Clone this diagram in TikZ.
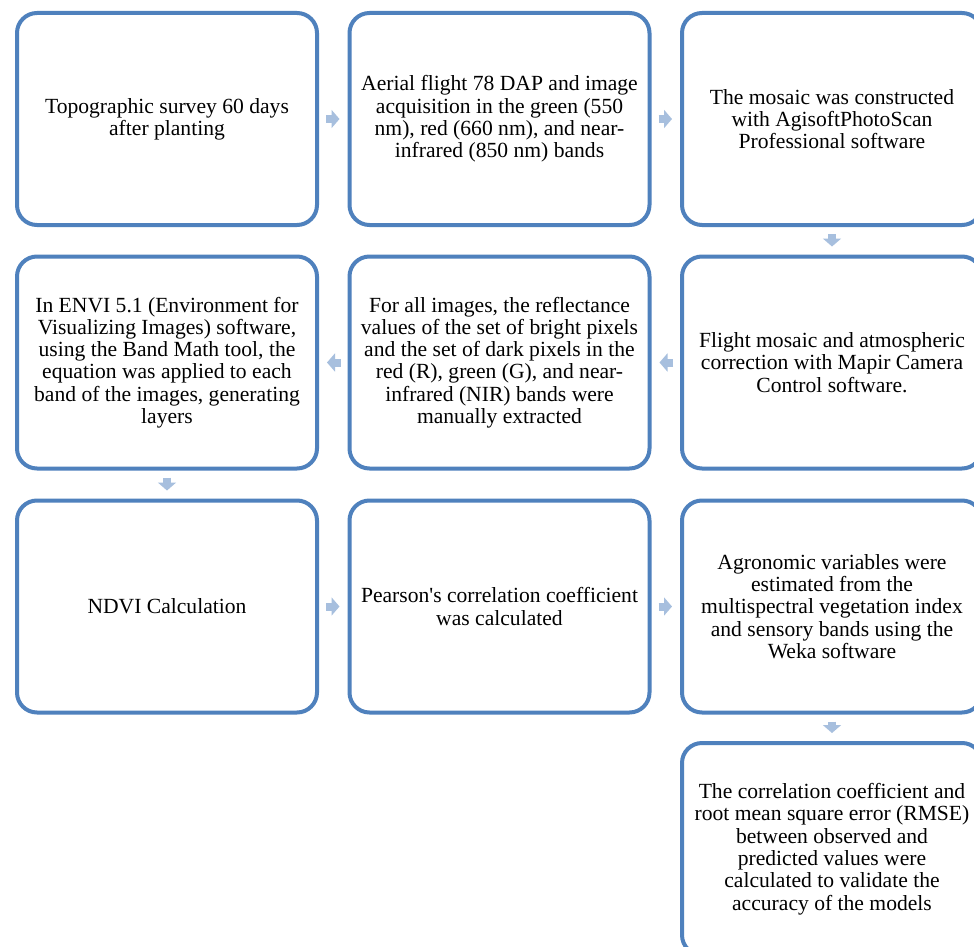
\documentclass[tikz,border=0pt]{standalone}
\usepackage{fontspec}
\setmainfont{Liberation Serif}
\usetikzlibrary{arrows.meta}
\definecolor{boxblue}{RGB}{79,129,189}
\definecolor{arrblue}{RGB}{167,191,222}
\begin{document}
\begin{tikzpicture}[x=1pt,y=-1pt,
  stepbox/.style={draw=boxblue, line width=4pt, rounded corners=20pt, fill=white,
    minimum width=300pt, minimum height=212pt, inner sep=0pt, align=center,
    font=\fontsize{21.6}{22.3}\selectfont},
  blockarr/.style={draw=arrblue, line width=8pt,
    -{Triangle[width=18pt,length=8pt]}, shorten <=7pt, shorten >=8pt}]
\clip (0,0) rectangle (974,947);
\fill[white] (0,0) rectangle (974,947);
% row 1
\node[stepbox] (a) at (167,119) {Topographic survey 60 days\\after planting};
\node[stepbox] (b) at (499.5,119) {Aerial flight 78 DAP and image\\acquisition in the green (550\\nm), red (660 nm), and near-\\infrared (850 nm) bands};
\node[stepbox] (c) at (832,119) {The mosaic was constructed\\with AgisoftPhotoScan\\Professional software};
% row 2
\node[stepbox] (d) at (832,362.5) {Flight mosaic and atmospheric\\correction with Mapir Camera\\Control software.};
\node[stepbox] (e) at (499.5,362.5) {For all images, the reflectance\\values of the set of bright pixels\\and the set of dark pixels in the\\red (R), green (G), and near-\\infrared (NIR) bands were\\manually extracted};
\node[stepbox] (f) at (167,362.5) {In ENVI 5.1 (Environment for\\Visualizing Images) software,\\using the Band Math tool, the\\equation was applied to each\\band of the images, generating\\layers};
% row 3
\node[stepbox] (g) at (167,606.5) {NDVI Calculation};
\node[stepbox] (h) at (499.5,606.5) {Pearson\textquotesingle s correlation coefficient\\was calculated};
\node[stepbox] (i) at (832,606.5) {Agronomic variables were\\estimated from the\\multispectral vegetation index\\and sensory bands using the\\Weka software};
% row 4
\node[stepbox] (j) at (832,849) {The correlation coefficient and\\root mean square error (RMSE)\\between observed and\\predicted values were\\calculated to validate the\\accuracy of the models};
% arrows
\draw[blockarr] (a.east) -- (b.west);
\draw[blockarr] (b.east) -- (c.west);
\draw[blockarr] (c.south) -- (d.north);
\draw[blockarr] (d.west) -- (e.east);
\draw[blockarr] (e.west) -- (f.east);
\draw[blockarr] (f.south) -- (g.north);
\draw[blockarr] (g.east) -- (h.west);
\draw[blockarr] (h.east) -- (i.west);
\draw[blockarr] (i.south) -- (j.north);
\end{tikzpicture}
\end{document}
